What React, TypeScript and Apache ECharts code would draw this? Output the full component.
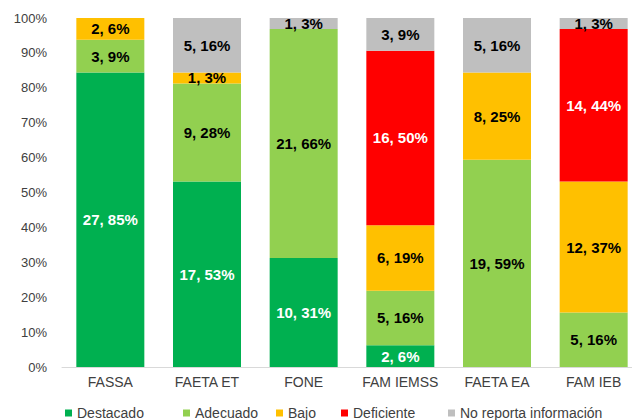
import React, { useEffect, useRef } from "react";
import * as echarts from "echarts";

const categories = ["FASSA", "FAETA ET", "FONE", "FAM IEMSS", "FAETA EA", "FAM IEB"];
const seriesNames = ["Destacado", "Adecuado", "Bajo", "Deficiente", "No reporta información"];

const destacadoCounts = [27, 17, 10, 2, 0, 0];
const destacadoPct = [85, 53, 31, 6, 0, 0];
const adecuadoCounts = [3, 9, 21, 5, 19, 5];
const adecuadoPct = [9, 28, 66, 16, 59, 16];
const bajoCounts = [2, 1, 0, 6, 8, 12];
const bajoPct = [6, 3, 0, 19, 25, 37];
const deficienteCounts = [0, 0, 0, 16, 0, 14];
const deficientePct = [0, 0, 0, 50, 0, 44];
const noReportaCounts = [0, 5, 1, 3, 5, 1];
const noReportaPct = [0, 16, 3, 9, 16, 3];

const yTicks = [0, 10, 20, 30, 40, 50, 60, 70, 80, 90, 100];

const colors = ["#00B050", "#92D050", "#FFC000", "#FF0000", "#BFBFBF"];
const labelColors = ["#FFFFFF", "#000000", "#000000", "#FFFFFF", "#000000"];
const legendLefts = [65, 183, 276, 341, 448];

const allCounts = [destacadoCounts, adecuadoCounts, bajoCounts, deficienteCounts, noReportaCounts];
const allPct = [destacadoPct, adecuadoPct, bajoPct, deficientePct, noReportaPct];

const totals = categories.map((_, i) => allCounts.reduce((s, arr) => s + arr[i], 0));

export default function App() {
  const ref = useRef<HTMLDivElement>(null);
  useEffect(() => {
    if (!ref.current) return;
    const chart = echarts.init(ref.current, null, { renderer: "svg" });
    const series = seriesNames.map((name, si) => ({
      name,
      type: "bar",
      stack: "total",
      barWidth: 68,
      itemStyle: { color: colors[si] },
      label: {
        show: true,
        position: "inside",
        color: labelColors[si],
        fontFamily: "Liberation Sans, Arial, sans-serif",
        fontWeight: "bold",
        fontSize: 15,
        formatter: (p: any) => `${allCounts[si][p.dataIndex]}, ${allPct[si][p.dataIndex]}%`,
      },
      data: allCounts[si].map((c, i) => (c > 0 ? (c / totals[i]) * 100 : null)),
    }));
    chart.setOption({
      animation: false,
      textStyle: { fontFamily: "Liberation Sans, Arial, sans-serif" },
      grid: { left: 62, top: 18, width: 580, height: 349, outerBoundsMode: "none" },
      legend: seriesNames.map((name, i) => ({
        data: [name],
        left: legendLefts[i],
        top: 406,
        padding: 0,
        icon: "rect",
        itemWidth: 7,
        itemHeight: 7,
        textStyle: { fontSize: 14, color: "#404040", fontFamily: "Liberation Sans, Arial, sans-serif" },
      })),
      xAxis: {
        type: "category",
        data: categories,
        axisTick: { show: false },
        axisLine: { lineStyle: { color: "#D9D9D9" } },
        axisLabel: { color: "#404040", fontSize: 14, margin: 8, interval: 0 },
      },
      yAxis: {
        type: "value",
        min: yTicks[0],
        max: yTicks[yTicks.length - 1],
        interval: yTicks[1] - yTicks[0],
        splitLine: { show: false },
        axisLine: { show: false },
        axisTick: { show: false },
        axisLabel: { color: "#404040", fontSize: 13, margin: 15, formatter: "{value}%" },
      },
      series,
    });
    return () => chart.dispose();
  }, []);
  return <div ref={ref} style={{ width: 632, height: 420, position: "absolute", left: 0, top: 0 }} />;
}
